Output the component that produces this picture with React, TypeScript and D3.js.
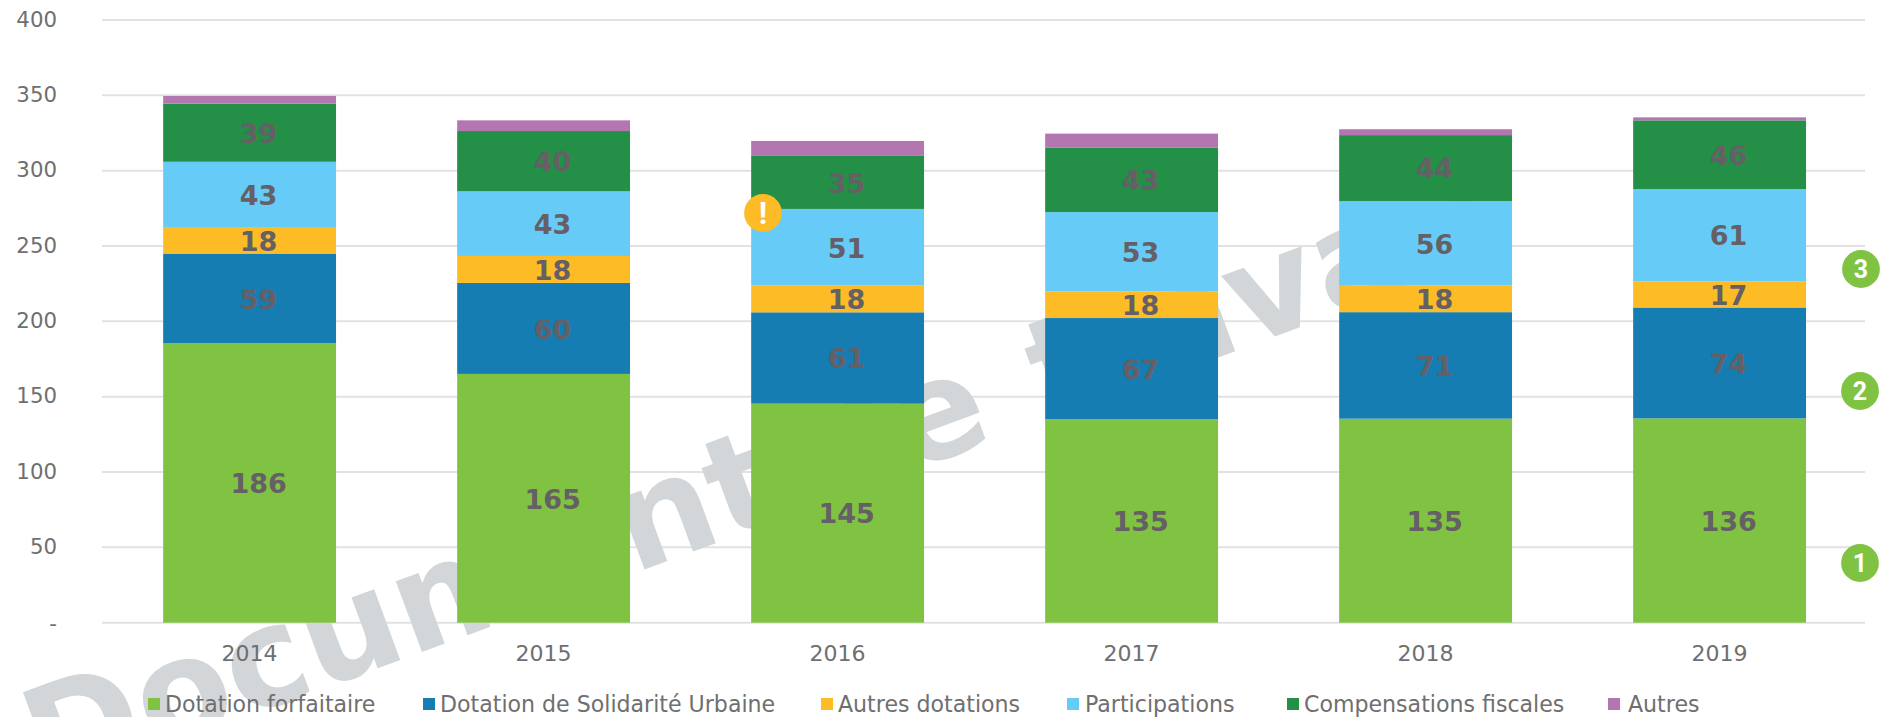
import React from 'react';
import * as d3 from 'd3';

const years = ['2014', '2015', '2016', '2017', '2018', '2019'];
const dotationForfaitaire = [185.6, 165.1, 145.4, 135, 135.4, 135.6];
const dotationSolidarite = [59.4, 60.4, 60.6, 67.2, 70.7, 73.6];
const autresDotations = [17.6, 17.9, 17.7, 17.7, 17.7, 17.4];
const participations = [43.3, 42.9, 50.9, 52.6, 56, 61.2];
const compensations = [38.6, 40, 35.2, 42.9, 43.8, 45.6];
const autres = [5.1, 7.1, 9.9, 9.2, 3.9, 2];

const seriesNames = ['Dotation forfaitaire', 'Dotation de Solidarité Urbaine', 'Autres dotations', 'Participations', 'Compensations fiscales', 'Autres'];
const seriesValues = [dotationForfaitaire, dotationSolidarite, autresDotations, participations, compensations, autres];
const seriesColors = ['#80c241', '#167db2', '#fdbc25', '#66ccf7', '#238f47', '#b376b0'];
const labelled = [true, true, true, true, true, false];
const yTicks = [0, 50, 100, 150, 200, 250, 300, 350, 400];
const legendSquareX = [148, 423, 821, 1067, 1287, 1608];
const legendTextX = [165, 440, 838, 1085, 1304, 1628];
const badges = [
  { t: '1', cx: 1860, cy: 563, c: '#80c241' },
  { t: '2', cx: 1860, cy: 391, c: '#80c241' },
  { t: '3', cx: 1861, cy: 269, c: '#80c241' },
  { t: '!', cx: 763, cy: 213, c: '#fdbc25' },
];

const W = 1888;
const H = 717;
const font = '"DejaVu Sans", Verdana, sans-serif';
const fmt = d3.format('.0f');

export default function App() {
  const x = d3.scaleBand<string>().domain(years).range([102.6, 1866.6]).paddingInner(0.412).paddingOuter(0.206);
  const y = d3.scaleLinear().domain([0, 400]).range([622.7, 20]);
  const rows = years.map((yr, i) => {
    const r: Record<string, number | string> = { year: yr };
    seriesNames.forEach((n, s) => { r[n] = seriesValues[s][i]; });
    return r;
  });
  const stacked = d3.stack<any>().keys(seriesNames)(rows as any);

  return (
    <svg width={W} height={H} viewBox={`0 0 ${W} ${H}`} style={{ position: 'fixed', left: 0, top: 0, background: '#fff' }}>
      {yTicks.map(t => (
        <g key={t}>
          <line x1={102} x2={1865} y1={y(t)} y2={y(t)} stroke="#e2e2e2" strokeWidth={2} />
          <text x={57} y={y(t) - 1 + (t === 0 ? 2 : 0)} dy="0.36em" textAnchor="end" fontFamily={font} fontSize={21.3} fill="#6f6f6f">{t === 0 ? '-' : t}</text>
        </g>
      ))}
      <text
        transform="translate(46,791) rotate(-20.3)"
        fontFamily={font}
        fontWeight="bold"
        fontSize={138}
        fill="#d2d6d8"
        xmlSpace="preserve"
      >
        <tspan>Document </tspan>
        <tspan dx={-18}>de </tspan>
        <tspan dx={8}>t</tspan>
        <tspan dx={-18}>ravail</tspan>
      </text>
      {stacked.map((layer, s) => (
        <g key={seriesNames[s]}>
          {layer.map((d, i) => (
            <rect key={years[i]} x={x(years[i])} width={x.bandwidth()} y={y(d[1])} height={y(d[0]) - y(d[1])} fill={seriesColors[s]} />
          ))}
        </g>
      ))}
      {stacked.map((layer, s) => labelled[s] ? (
        <g key={seriesNames[s]}>
          {layer.map((d, i) => (
            <text key={years[i]} x={x(years[i])! + x.bandwidth() / 2 + 9} y={y((d[0] + d[1]) / 2) + 0.5} dy="0.36em" textAnchor="middle"
              fontFamily={font} fontWeight="bold" fontSize={27} fill="#655f66">{fmt(seriesValues[s][i])}</text>
          ))}
        </g>
      ) : null)}
      {years.map(yr => (
        <text key={yr} x={x(yr)! + x.bandwidth() / 2} y={653} dy="0.36em" textAnchor="middle" fontFamily={font} fontSize={22} fill="#6f6f6f">{yr}</text>
      ))}
      {seriesNames.map((n, s) => (
        <g key={n}>
          <rect x={legendSquareX[s]} y={698} width={12} height={12} fill={seriesColors[s]} />
          <text x={legendTextX[s]} y={704} dy="0.36em" fontFamily={font} fontSize={22.1} fill="#6f6f6f">{n}</text>
        </g>
      ))}
      {badges.map(b => (
        <g key={b.t}>
          <circle cx={b.cx} cy={b.cy} r={18.9} fill={b.c} />
          <text x={b.cx} y={b.cy} dy="0.36em" textAnchor="middle" fontFamily='Roboto, sans-serif' fontWeight="bold" fontSize={b.t === '!' ? 31 : 25} fill="#fff">{b.t}</text>
        </g>
      ))}
    </svg>
  );
}
